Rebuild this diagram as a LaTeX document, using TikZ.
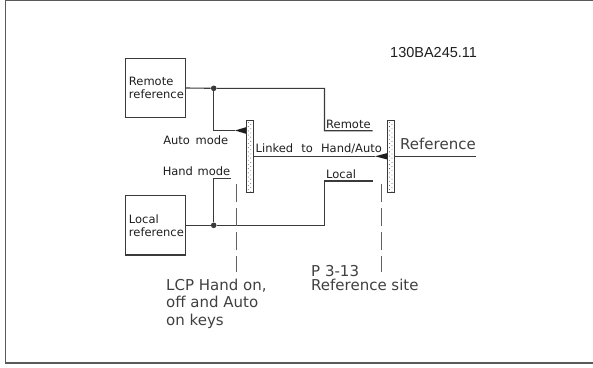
\documentclass[tikz,border=0pt]{standalone}
\usepackage{fontspec}
\setmainfont{DejaVu Sans}
\newfontfamily\idfont{Liberation Sans}
\definecolor{lc}{HTML}{3A3A3A}
\definecolor{tc}{HTML}{1E1E1E}
\definecolor{fc}{HTML}{5A5A5A}
\begin{document}
\begin{tikzpicture}[x=1pt,y=-1pt,
  ln/.style={line width=1.1pt, draw=lc},
  dsh/.style={line width=1.1pt, draw=lc!80, dash pattern=on 18pt off 6pt},
  box/.style={draw=lc, line width=1.1pt, minimum width=59.7pt, minimum height=59.4pt,
    text width=53pt, align=left, inner sep=0pt, text=tc,
    font=\fontsize{11.5}{13}\selectfont},
  lbl/.style={font=\fontsize{11.5}{13}\selectfont, inner sep=0pt, text=tc},
  big/.style={font=\fontsize{15}{17.5}\selectfont, inner sep=0pt, text=tc!85},
  swbar/.style={draw=lc, line width=1.1pt, fill=white, minimum width=6.8pt,
    minimum height=71.6pt, inner sep=0pt},
  jdot/.style={circle, fill=lc, inner sep=0pt, minimum size=5.6pt},
  wedge/.style={fill=tc}
]
\useasboundingbox (0,0) rectangle (593,367);
% frame
\draw[line width=1.1pt, draw=fc] (598,0.8) -- (5.5,0.8) -- (5.5,363) -- (598,363);

% boxes
\node[box] (remote) at (155.45,88) {Remote\\reference};
\node[box] (local) at (155.45,225.3) {Local\\reference};

% switch bars
\node[swbar] (sw1) at (250,156.3) {};
\node[swbar] (sw2) at (391.2,156.3) {};
\foreach \s in {sw1,sw2}{
  \foreach \i in {0,...,16}{
    \fill[lc, shift={(\s.north west)}] (2.2,{2.5+4.2*\i}) circle (0.45pt);
    \fill[lc, shift={(\s.north west)}] (4.7,{4.6+4.2*\i}) circle (0.45pt);
  }
}

% junctions and ends
\node[jdot] (dR) at (213.7,88.3) {};
\node[jdot] (dL) at (213.7,225.3) {};
\coordinate (remCorner) at (324.5,88.3);
\coordinate (remEnd) at (372.5,130.7);
\coordinate (locCorner) at (324.5,225.3);
\coordinate (locEnd) at (372.5,181);
\coordinate (autoTip) at (235,130.5);
\coordinate (handEnd) at (230.7,178.3);
\coordinate (refTip) at (375,156.3);
\coordinate (refOut) at (475.8,156.3);
\coordinate (d1a) at (236.5,184);
\coordinate (d1b) at (236.5,272);
\coordinate (d2a) at (381.6,184);
\coordinate (d2b) at (381.6,272);

% connectors
\draw[ln] (remote.east) -- (dR) -- (remCorner) |- (remEnd);
\draw[ln] (dR) |- (autoTip);
\draw[ln] (local.east) -- (dL) -- (locCorner) |- (locEnd);
\draw[ln] (dL) |- (handEnd);
\draw[ln] (sw1.east) -- (refTip);
\draw[ln] (sw2.east) -- (refOut);

% wedges (switch contacts)
\fill[wedge] (autoTip) -- (sw1.west |- 0,127.2) -- (sw1.west |- 0,133.8) -- cycle;
\fill[wedge] (refTip) -- (sw2.west |- 0,153.1) -- (sw2.west |- 0,159.5) -- cycle;

% dashed key lines
\draw[dsh] (d1a) -- (d1b);
\draw[dsh] (d2a) -- (d2b);

% labels
\node[lbl, anchor=base west] (remL) at (326,128) {Remote};
\node[lbl, anchor=base west] (locL) at (326,178) {Local};
\node[lbl, anchor=base west] (linkL) at (255.5,152) {Linked\hspace{4.5pt} to\hspace{4.5pt} Hand/Auto};
\node[lbl, anchor=base east] (autoL) at (228.5,144) {Auto\hspace{2pt} mode};
\node[lbl, anchor=base east] (handL) at (230.5,175) {Hand\hspace{1pt} mode};
\node[big, anchor=base west] (refL) at (400,149) {Reference};
\node[big, anchor=base west, align=left] (lcpL) at (166,325) {LCP Hand on,\\off and Auto\\on keys};
\node[big, anchor=base west, align=left, font=\fontsize{15}{14}\selectfont] (p313) at (311,290) {P 3-13\\Reference site};
\node[font=\idfont\fontsize{14.5}{17}\selectfont, anchor=base west, inner sep=0pt, text=tc] (id) at (390,57.5) {130BA245.11};
\end{tikzpicture}
\end{document}
